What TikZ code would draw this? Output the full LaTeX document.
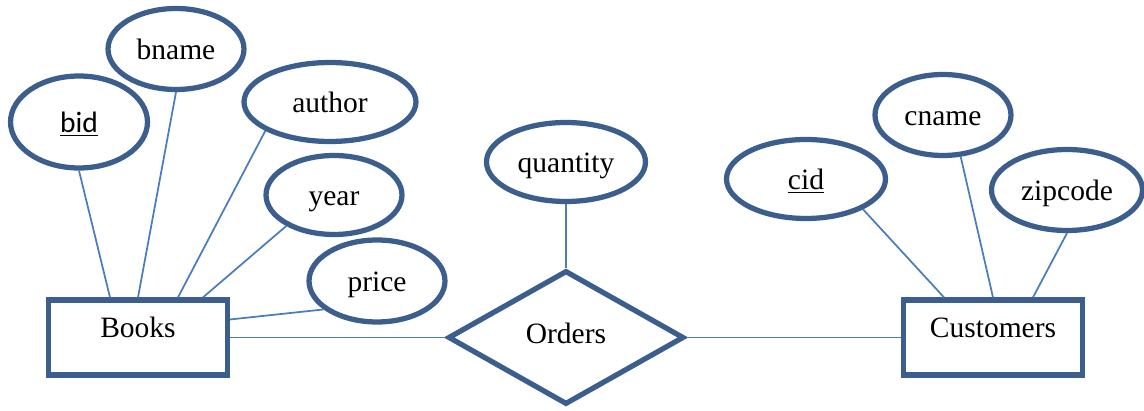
\documentclass[tikz,border=0pt]{standalone}
\usepackage{fontspec}
\setmainfont{Liberation Serif}
\newfontfamily\keyfont{Carlito}
\usepackage{tikz}
\usetikzlibrary{shapes.geometric}
\definecolor{erborder}{HTML}{3B5E8C}
\definecolor{erline}{HTML}{4A7EBB}

\begin{document}
\begin{tikzpicture}[x=0.02cm,y=-0.02cm,-,
  font=\fontsize{16.8}{19}\selectfont,
  attr node/.style={ellipse,draw=erborder,line width=0.105cm,fill=white,inner sep=0pt,
    text height=14pt,text depth=1.5pt},
  entity node/.style={rectangle,draw=erborder,line width=0.105cm,fill=white,inner sep=0pt,
    minimum width=3.57cm,minimum height=1.5cm,text height=8pt,text depth=8pt},
  rel node/.style={diamond,draw=erborder,line width=0.105cm,fill=white,inner sep=0pt,
    shape aspect=1.76,minimum width=4.72cm,minimum height=2.68cm,text height=10pt,text depth=3.2pt}]
  \useasboundingbox (0,0) rectangle (1144,411);

  \node[attr node,minimum width=2.74cm,minimum height=1.84cm] (bid) at (79,122) {\keyfont\underline{bid}};
  \node[attr node,minimum width=2.72cm,minimum height=1.62cm] (bname) at (176,49) {bname};
  \node[attr node,minimum width=3.44cm,minimum height=1.58cm] (author) at (330,102) {author};
  \node[attr node,minimum width=2.72cm,minimum height=1.58cm] (year) at (334,195) {year};
  \node[attr node,minimum width=2.72cm,minimum height=1.64cm] (price) at (377,281) {price};
  \node[attr node,minimum width=3.18cm,minimum height=1.58cm] (quantity) at (566,162) {quantity};
  \node[attr node,minimum width=3.18cm,minimum height=1.58cm] (cid) at (806,179) {\underline{cid}};
  \node[attr node,minimum width=2.72cm,minimum height=1.62cm] (cname) at (943,115) {cname};
  \node[attr node,minimum width=3.02cm,minimum height=1.62cm] (zipcode) at (1067,190) {zipcode};

  \node[entity node] (Books) at (138,337.5) {Books};
  \node[rel node] (Orders) at (566,337.5) {Orders};
  \node[entity node] (Customers) at (993,337.5) {Customers};

  \path[draw=erline,line width=0.035cm]
    (bid.south) edge ([xshift=-0.56cm]Books.north)
    (bname.south) edge (Books.north)
    (author.204) edge ([xshift=0.8cm]Books.north)
    (year.213) edge ([xshift=1.3cm]Books.north)
    (price.208) edge ([yshift=0.36cm]Books.east)
    (Books.east) edge (Orders.west)
    (quantity.south) edge (Orders.north)
    (Orders.east) edge (Customers.west)
    (cid.-28) edge ([xshift=-0.98cm]Customers.north)
    (cname.-67) edge (Customers.north)
    (zipcode.south) edge ([xshift=0.8cm]Customers.north);
\end{tikzpicture}
\end{document}
